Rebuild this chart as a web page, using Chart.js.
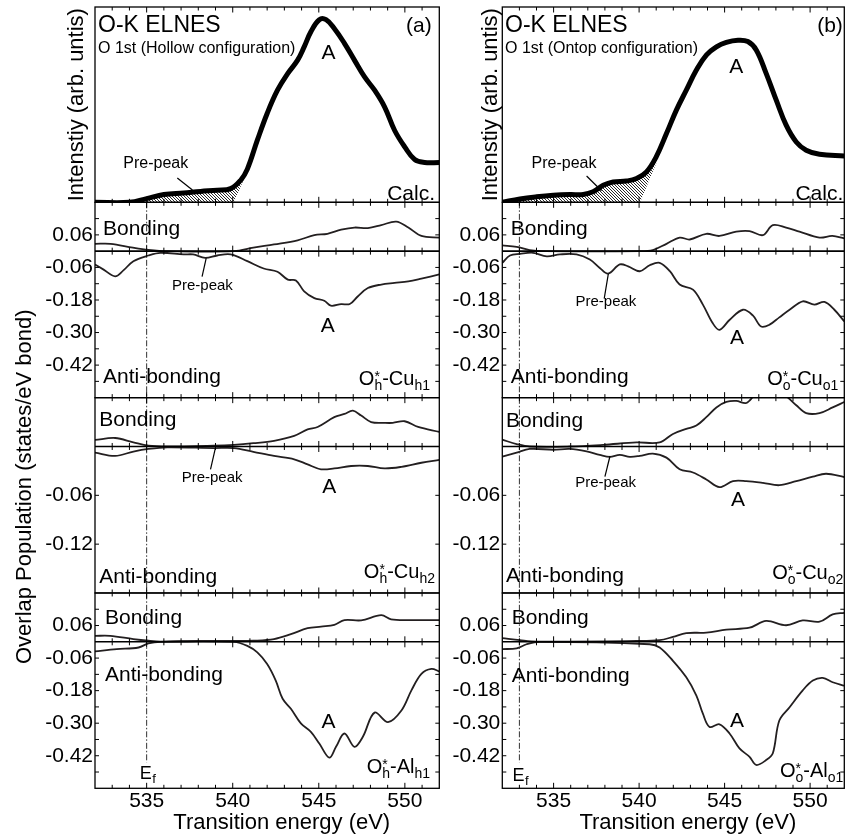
<!DOCTYPE html>
<html lang="en">
<head>
<meta charset="UTF-8">
<title>O-K ELNES and overlap population</title>
<script src="https://cdn.jsdelivr.net/npm/chart.js"></script>
<style>
  body { margin: 0; background: #fff; }
  canvas { position: absolute; top: 0; }
  #colA { left: 0; }
  #colB { left: 445px; }
</style>
</head>
<body>
<canvas id="colA" width="445" height="836"></canvas>
<canvas id="colB" width="400" height="836"></canvas>
<script>
const FONT = '"Liberation Sans", Arial, sans-serif';

// x axis (transition energy, eV)
const xMajor = [535, 540, 545, 550];
const xMinor = [533, 534, 536, 537, 538, 539, 541, 542, 543, 544, 546, 547, 548, 549, 551];

// y ticks of the overlap population panels
const opTicks = [0.18, 0.12, 0.06, 0, -0.06, -0.12, -0.18, -0.24, -0.30, -0.36, -0.42, -0.48, -0.54];
const opLabels = [0.06, -0.06, -0.18, -0.30, -0.42];
const cu2Ticks = [0.06, 0, -0.06, -0.12, -0.18];
const cu2Labels = [-0.06, -0.12];

// ---- (a) hollow configuration ----
const elnesA_E = [532, 534.0, 535.0, 536.0, 537.15, 538.13, 539.1, 539.88, 540.46, 540.85, 541.43, 542.0, 542.6, 543.2, 543.77, 544.15, 544.54, 545.03, 545.42, 545.9, 546.49, 547.07, 547.65, 548.24, 548.82, 549.4, 549.99, 550.57, 551.15, 552];
const elnesA_I = [0, 0, 0.019, 0.04, 0.048, 0.056, 0.062, 0.07, 0.113, 0.17, 0.318, 0.455, 0.574, 0.66, 0.728, 0.796, 0.873, 0.935, 0.935, 0.89, 0.814, 0.728, 0.643, 0.574, 0.489, 0.369, 0.284, 0.219, 0.204, 0.204];
const hatchA_E = [535.0, 540.07, 540.8];
const hatchA_I = [0, 0, 0.15];

const cuh1BondE = [532, 532.9, 534.2, 535.1, 536.2, 540.07, 541.2, 542.4, 543.77, 544.74, 545.5, 546.3, 547.07, 547.85, 548.63, 549.5, 550.2, 550.96, 552];
const cuh1BondV = [0.027, 0.027, 0.013, 0.005, 0.0, 0.0, 0.013, 0.025, 0.04, 0.059, 0.064, 0.079, 0.087, 0.085, 0.096, 0.109, 0.087, 0.056, 0.05];
const cuh1AntiE = [532, 532.5, 533.17, 533.65, 534.23, 535.1, 535.8, 537.15, 537.7, 538.4, 539.1, 539.88, 540.85, 541.8, 542.6, 543.2, 543.67, 544.15, 544.74, 545.32, 545.7, 546.3, 546.8, 547.26, 547.85, 548.63, 549.4, 550.2, 550.96, 552];
const cuh1AntiV = [-0.049, -0.068, -0.093, -0.071, -0.037, -0.016, -0.006, -0.012, -0.012, -0.025, -0.016, -0.012, -0.037, -0.064, -0.076, -0.105, -0.108, -0.148, -0.173, -0.183, -0.201, -0.195, -0.195, -0.167, -0.136, -0.123, -0.117, -0.111, -0.101, -0.086];

const cuh2BondE = [532, 533.17, 534.23, 535.1, 536.2, 538.9, 540.07, 541.2, 542.4, 543.57, 544.35, 544.93, 545.9, 546.49, 546.98, 547.46, 548.04, 548.82, 549.3, 549.99, 550.77, 552];
const cuh2BondV = [0.008, 0.0104, 0.005, 0.001, 0, 0.001, 0.002, 0.004, 0.007, 0.013, 0.021, 0.024, 0.036, 0.04, 0.044, 0.038, 0.03, 0.029, 0.029, 0.031, 0.024, 0.018];
const cuh2AntiE = [532, 533.17, 534.23, 535.1, 536.2, 538.9, 540.07, 541.2, 542.4, 543.57, 544.35, 545.13, 545.9, 546.88, 547.85, 548.82, 549.8, 550.96, 552];
const cuh2AntiV = [-0.0075, -0.0116, -0.0062, -0.003, -0.001, -0.002, -0.002, -0.0066, -0.0116, -0.0157, -0.022, -0.028, -0.027, -0.024, -0.024, -0.027, -0.025, -0.02, -0.0165];

const alh1BondE = [532, 532.88, 534.23, 535.1, 535.8, 538.0, 540.07, 541.2, 542.4, 543.38, 544.35, 545.13, 545.9, 546.49, 547.46, 548.63, 549.2, 550.2, 552];
const alh1BondV = [0.022, 0.022, 0.01, 0.004, 0.001, 0.003, 0.003, 0.004, 0.01, 0.028, 0.05, 0.056, 0.062, 0.08, 0.079, 0.098, 0.083, 0.08, 0.08];
const alh1AntiE = [532, 533.26, 534.53, 535.1, 535.8, 540.07, 540.85, 541.43, 542.0, 542.5, 542.9, 543.38, 543.96, 544.54, 545.03, 545.61, 546.0, 546.49, 547.07, 547.56, 548.24, 549.02, 549.8, 550.38, 550.96, 551.54, 552];
const alh1AntiV = [-0.035, -0.027, -0.021, -0.006, 0, 0, -0.015, -0.039, -0.082, -0.143, -0.21, -0.247, -0.301, -0.332, -0.375, -0.427, -0.387, -0.338, -0.387, -0.35, -0.261, -0.296, -0.253, -0.179, -0.118, -0.1, -0.109];

// ---- (b) ontop configuration ----
const elnesB_E = [532, 533.03, 534.0, 534.98, 535.95, 536.73, 537.31, 537.9, 538.48, 539.26, 539.85, 540.43, 541.0, 541.6, 542.18, 542.76, 543.35, 543.93, 544.52, 545.1, 545.78, 546.36, 546.85, 547.43, 548.02, 548.6, 549.19, 549.77, 550.55, 552];
const elnesB_I = [0, 0.017, 0.028, 0.036, 0.04, 0.04, 0.054, 0.087, 0.104, 0.109, 0.122, 0.156, 0.233, 0.352, 0.472, 0.574, 0.677, 0.754, 0.796, 0.819, 0.83, 0.823, 0.78, 0.66, 0.523, 0.395, 0.309, 0.267, 0.246, 0.237];
const hatchB_E = [533.0, 540.06, 541.1];
const hatchB_I = [0, 0, 0.22];

const cuo1BondE = [532, 532.84, 533.6, 534.5, 540.0, 540.8, 541.6, 542.37, 542.96, 543.93, 544.7, 545.68, 546.46, 547.24, 547.82, 548.6, 549.38, 550.55, 551.3, 552];
const cuo1BondV = [0.021, 0.016, 0.004, 0, 0, 0.004, 0.027, 0.05, 0.043, 0.064, 0.056, 0.072, 0.074, 0.059, 0.096, 0.087, 0.072, 0.05, 0.056, 0.047];
const cuo1AntiE = [532, 532.45, 533.03, 533.8, 534.6, 535.37, 536.34, 537.12, 537.7, 538.19, 538.87, 539.36, 540.04, 540.62, 541.2, 541.8, 542.37, 543.15, 543.73, 544.3, 544.7, 545.3, 546.07, 546.65, 547.14, 547.63, 548.2, 548.8, 549.57, 550.25, 550.84, 551.42, 552];
const cuo1AntiV = [-0.043, -0.016, -0.01, -0.006, -0.019, -0.012, -0.012, -0.031, -0.062, -0.083, -0.049, -0.056, -0.074, -0.052, -0.043, -0.074, -0.123, -0.142, -0.197, -0.265, -0.29, -0.253, -0.216, -0.237, -0.278, -0.271, -0.244, -0.216, -0.185, -0.197, -0.187, -0.216, -0.259];

const cuo2BondE = [532, 532.84, 533.6, 535.95, 537.9, 539.85, 541.2, 541.98, 542.76, 543.35, 543.93, 544.52, 545.1, 545.68, 546.27, 546.8, 547.4, 548.0, 548.7, 549.19, 549.77, 550.55, 551.32, 552];
const cuo2BondV = [0.0083, 0.003, 0, 0, 0.002, 0.005, 0.005, 0.0154, 0.0216, 0.0257, 0.036, 0.048, 0.0547, 0.056, 0.0534, 0.064, 0.072, 0.07, 0.06, 0.0506, 0.041, 0.041, 0.048, 0.0547];
const cuo2AntiE = [532, 532.84, 533.6, 534.98, 535.95, 536.93, 537.7, 538.29, 538.87, 539.46, 540.04, 540.8, 541.6, 542.37, 543.15, 543.93, 544.7, 545.49, 546.27, 547.24, 548.2, 549.19, 550.16, 550.94, 552];
const cuo2AntiV = [-0.0124, -0.0075, -0.003, -0.004, -0.003, -0.006, -0.0103, -0.0128, -0.0103, -0.0128, -0.0116, -0.0087, -0.0137, -0.028, -0.032, -0.0405, -0.05, -0.0426, -0.0426, -0.0447, -0.0476, -0.0426, -0.037, -0.0335, -0.0376];

const alo1BondE = [532, 533.03, 534.0, 539.85, 541.2, 541.98, 542.76, 543.93, 545.1, 546.46, 547.43, 548.6, 549.57, 550.55, 551.32, 552];
const alo1BondV = [0.0135, 0.006, 0.001, 0.003, 0.006, 0.018, 0.032, 0.034, 0.045, 0.052, 0.077, 0.061, 0.079, 0.074, 0.101, 0.107];
const alo1AntiE = [532, 532.84, 533.42, 534.2, 540.62, 541.2, 541.98, 542.76, 543.35, 543.73, 544.12, 544.7, 545.29, 545.87, 546.46, 546.85, 547.43, 547.82, 548.2, 548.8, 549.57, 550.16, 550.74, 551.32, 552];
const alo1AntiV = [-0.027, -0.024, -0.009, 0, -0.009, -0.021, -0.07, -0.131, -0.198, -0.265, -0.314, -0.304, -0.338, -0.393, -0.424, -0.454, -0.436, -0.411, -0.29, -0.241, -0.179, -0.143, -0.133, -0.149, -0.162];

const pts = (xs, ys) => xs.map((x, i) => ({ x, y: ys[i] }));

function makeHatch() {
  const c = document.createElement('canvas');
  c.width = 3; c.height = 3;
  const g = c.getContext('2d');
  g.strokeStyle = '#111';
  g.lineWidth = 0.9;
  g.beginPath();
  g.moveTo(0, 0); g.lineTo(3, 3);
  g.moveTo(-1, 2); g.lineTo(1, 4);
  g.moveTo(2, -1); g.lineTo(4, 1);
  g.stroke();
  return g.createPattern(c, 'repeat');
}

function seg(ctx, x1, y1, x2, y2) {
  ctx.beginPath(); ctx.moveTo(x1, y1); ctx.lineTo(x2, y2); ctx.stroke();
}
function txt(ctx, s, x, y, size, align) {
  ctx.font = size + 'px ' + FONT;
  ctx.textAlign = align || 'left';
  ctx.textBaseline = 'alphabetic';
  ctx.fillText(s, x, y);
}
function vtxt(ctx, s, x, y, size) {
  ctx.save();
  ctx.translate(x, y);
  ctx.rotate(-Math.PI / 2);
  txt(ctx, s, 0, 0, size, 'center');
  ctx.restore();
}
// O*_site - Partner_idx
function bondLabel(ctx, right, base, site, partner, idx) {
  const f = s => s + 'px ' + FONT;
  ctx.textAlign = 'left'; ctx.textBaseline = 'alphabetic';
  ctx.font = f(20);
  const wO = ctx.measureText('O').width, wP = ctx.measureText('-' + partner).width;
  ctx.font = f(14);
  const wS = Math.max(ctx.measureText('*').width, ctx.measureText(site).width);
  const wI = ctx.measureText(idx).width;
  let x = right - (wO + wS + wP + wI);
  ctx.font = f(20); ctx.fillText('O', x, base); x += wO;
  ctx.font = f(14); ctx.fillText('*', x, base - 4); ctx.fillText(site, x, base + 5); x += wS;
  ctx.font = f(20); ctx.fillText('-' + partner, x, base); x += wP;
  ctx.font = f(14); ctx.fillText(idx, x, base + 5);
}

function makeDecor(col) {
  return {
    id: 'decor',
    afterDraw(chart) {
      const ctx = chart.ctx, xs = chart.scales.x;
      const ys = ['yE', 'y1', 'y2', 'y3'].map(k => chart.scales[k]);
      const L = xs.left, R = xs.right;
      ctx.save();
      ctx.fillStyle = '#000';

      // Fermi level
      const xf = xs.getPixelForValue(col.ef);
      ctx.strokeStyle = '#333';
      ctx.lineWidth = 1;
      ctx.setLineDash([6, 2, 1.5, 2]);
      seg(ctx, xf, ys[1].top, xf, ys[3].getPixelForValue(-0.445));
      ctx.setLineDash([]);
      ctx.strokeStyle = '#000';

      // frames, zero lines and inward ticks
      ys.forEach((s, i) => {
        ctx.lineWidth = 1.3;
        ctx.strokeRect(L, s.top, R - L, s.bottom - s.top);
        const rows = [[s.top, 1], [s.bottom, -1]];
        if (i > 0) {
          const y0 = s.getPixelForValue(0);
          ctx.lineWidth = 1.6;
          seg(ctx, L, y0, R, y0);
          rows.push([y0, 0]);
        }
        ctx.lineWidth = 1;
        rows.forEach(([y, dir]) => {
          xMajor.concat(xMinor).forEach(v => {
            const len = xMajor.includes(v) ? 5.5 : 3.5;
            const px = xs.getPixelForValue(v);
            if (dir === 0) seg(ctx, px, y - len, px, y + len);
            else seg(ctx, px, y, px, y + dir * len);
          });
        });
        if (i > 0) s.ticks.forEach(t => {
          if (t.value === s.min || t.value === s.max || t.value === 0) return;
          const py = s.getPixelForValue(t.value);
          seg(ctx, L, py, L + 4, py);
          seg(ctx, R - 4, py, R, py);
        });
      });

      // headers of the ELNES panel
      const top = ys[0].top, h = col.head;
      txt(ctx, 'O-K ELNES', L + h.title[0], top + h.title[1], 23);
      txt(ctx, col.sub, L + h.sub[0], top + h.sub[1], 16);
      txt(ctx, col.tag, R + h.tag[0], top + h.tag[1], 21, 'right');
      txt(ctx, 'Calc.', R + h.calc[0], top + h.calc[1], 21, 'right');
      vtxt(ctx, 'Intenstiy (arb. untis)', L + col.intX, (ys[0].top + ys[0].bottom) / 2, 22);
      if (col.opTitle) vtxt(ctx, 'Overlap Population (states/eV bond)', col.opTitle[0], col.opTitle[1], 22);

      // overlap panels
      [1, 2, 3].forEach((k, j) => {
        const s = ys[k];
        txt(ctx, 'Bonding', L + col.bond[j][0], s.top + col.bond[j][1], 21);
        txt(ctx, 'Anti-bonding', L + col.anti[j][0], s.top + col.anti[j][1], 21);
        bondLabel(ctx, R + col.name[j][0], s.top + col.name[j][1], col.site, col.bonds[j][0], col.bonds[j][1]);
      });

      // feature labels
      col.notes.forEach(([ax, s, e, v, size]) => {
        txt(ctx, s, xs.getPixelForValue(e), chart.scales[ax].getPixelForValue(v), size, 'center');
      });
      ctx.lineWidth = 1.2;
      col.leaders.forEach(([ax, e1, v1, e2, v2]) => {
        const sc = chart.scales[ax];
        seg(ctx, xs.getPixelForValue(e1), sc.getPixelForValue(v1), xs.getPixelForValue(e2), sc.getPixelForValue(v2));
      });

      // E_f label
      const yb = ys[3].bottom - col.efDy;
      txt(ctx, 'E', xf - 7, yb, 18);
      ctx.font = '18px ' + FONT;
      const wE = ctx.measureText('E').width;
      txt(ctx, 'f', xf - 7 + wE + 0.5, yb + 4, 13);

      // x axis title
      txt(ctx, 'Transition energy (eV)', xs.getPixelForValue(542.85), 829, 22, 'center');
      ctx.restore();
    }
  };
}

function yAxis(min, max, ticks, labels, weight, w, show) {
  return {
    type: 'linear', position: 'left', stack: 'col', stackWeight: 1, weight,
    min, max,
    grid: { display: false, drawTicks: false },
    border: { display: false },
    afterBuildTicks: s => { s.ticks = ticks.map(v => ({ value: v })); },
    afterFit: s => { s.width = w; s.paddingTop = 0; s.paddingBottom = 0; },
    ticks: {
      display: show, autoSkip: false, padding: 2, color: '#000',
      font: { family: FONT, size: 21 },
      callback: v => labels.some(l => Math.abs(l - v) < 1e-9) ? v.toFixed(2) : ''
    }
  };
}

function buildColumn(id, col) {
  const curve = (e, v, ax) => ({
    data: pts(e, v), yAxisID: ax, borderColor: '#231f20', borderWidth: 1.8,
    pointRadius: 0, fill: false, tension: 0.35
  });
  new Chart(document.getElementById(id), {
    type: 'line',
    data: {
      datasets: [
        { data: pts(col.elnes[0], col.elnes[1]), yAxisID: 'yE', borderColor: '#000', borderWidth: 5,
          borderJoinStyle: 'round', pointRadius: 0, fill: false, tension: 0.4 },
        { data: pts(col.hatch[0], col.hatch[1]), yAxisID: 'yE', borderWidth: 0, borderColor: 'rgba(0,0,0,0)',
          backgroundColor: makeHatch(), fill: 0, tension: 0, pointRadius: 0 },
        curve(col.op[0][0], col.op[0][1], 'y1'),
        curve(col.op[1][0], col.op[1][1], 'y1'),
        curve(col.op[2][0], col.op[2][1], 'y2'),
        curve(col.op[3][0], col.op[3][1], 'y2'),
        curve(col.op[4][0], col.op[4][1], 'y3'),
        curve(col.op[5][0], col.op[5][1], 'y3')
      ]
    },
    options: {
      responsive: false, animation: false, events: [],
      layout: { padding: { top: 7, right: col.padRight, left: 0, bottom: 0 } },
      plugins: { legend: { display: false }, tooltip: { enabled: false } },
      scales: {
        x: {
          type: 'linear', position: 'bottom', min: 532, max: 552,
          grid: { display: false, drawTicks: false }, border: { display: false },
          afterBuildTicks: s => { s.ticks = xMajor.map(v => ({ value: v })); },
          afterFit: s => { s.height = 47.7; s.paddingLeft = 0; s.paddingRight = 0; },
          ticks: { font: { family: FONT, size: 21 }, color: '#000', padding: 0, maxRotation: 0, autoSkip: false }
        },
        yE: yAxis(0, 1, [0, 1], [], 4, col.axisW, false),
        y1: yAxis(-0.54, 0.18, opTicks, opLabels, 3, col.axisW, true),
        y2: yAxis(-0.18, 0.06, cu2Ticks, cu2Labels, 2, col.axisW, true),
        y3: yAxis(-0.54, 0.18, opTicks, opLabels, 1, col.axisW, true)
      }
    },
    plugins: [makeDecor(col)]
  });
}

buildColumn('colA', {
  axisW: 95, padRight: 5.7, ef: 535, site: 'h', tag: '(a)',
  sub: 'O 1st (Hollow configuration)',
  elnes: [elnesA_E, elnesA_I], hatch: [hatchA_E, hatchA_I],
  op: [[cuh1BondE, cuh1BondV], [cuh1AntiE, cuh1AntiV], [cuh2BondE, cuh2BondV], [cuh2AntiE, cuh2AntiV], [alh1BondE, alh1BondV], [alh1AntiE, alh1AntiV]],
  bonds: [['Cu', 'h1'], ['Cu', 'h2'], ['Al', 'h1']],
  head: { title: [3, 24.7], sub: [3, 46.3], tag: [-7.6, 24.7], calc: [-4.3, 192.5] },
  intX: -12.5, opTitle: [31, 486.7], efDy: 9.5,
  bond: [[8, 32.7], [4.3, 28.3], [10, 31]],
  anti: [[8, 181], [4.3, 185.6], [10, 87.7]],
  name: [[-9.3, 182.7], [-4.3, 180.6], [-9.3, 179.7]],
  notes: [['yE', 'A', 545.56, 0.732, 21], ['yE', 'Pre-peak', 535.53, 0.174, 16],
          ['y1', 'A', 545.52, -0.297, 21], ['y1', 'Pre-peak', 538.24, -0.143, 15],
          ['y2', 'A', 545.61, -0.0568, 21], ['y2', 'Pre-peak', 538.8, -0.0433, 15],
          ['y3', 'A', 545.56, -0.3185, 21]],
  leaders: [['yE', 536.78, 0.125, 537.66, 0.063], ['y1', 538.46, -0.026, 538.22, -0.094], ['y2', 539.0, -0.0015, 538.71, -0.028]]
});

buildColumn('colB', {
  axisW: 57.3, padRight: 0.7, ef: 533, site: 'o', tag: '(b)',
  sub: 'O 1st (Ontop configuration)',
  elnes: [elnesB_E, elnesB_I], hatch: [hatchB_E, hatchB_I],
  op: [[cuo1BondE, cuo1BondV], [cuo1AntiE, cuo1AntiV], [cuo2BondE, cuo2BondV], [cuo2AntiE, cuo2AntiV], [alo1BondE, alo1BondV], [alo1AntiE, alo1AntiV]],
  bonds: [['Cu', 'o1'], ['Cu', 'o2'], ['Al', 'o1']],
  head: { title: [2.7, 24.7], sub: [2.7, 46.3], tag: [-1.5, 24.7], calc: [-1, 192.5] },
  intX: -5.3, opTitle: null, efDy: 7,
  bond: [[8.4, 32.7], [3.7, 29], [9.4, 31]],
  anti: [[8.4, 181], [3.7, 184], [9.4, 88.7]],
  name: [[-6, 182.7], [-1, 181.6], [-1, 183.7]],
  notes: [['yE', 'A', 545.68, 0.664, 21], ['yE', 'Pre-peak', 535.61, 0.174, 16],
          ['y1', 'A', 545.73, -0.343, 21], ['y1', 'Pre-peak', 538.06, -0.202, 15],
          ['y2', 'A', 545.78, -0.0731, 21], ['y2', 'Pre-peak', 538.04, -0.0502, 15],
          ['y3', 'A', 545.73, -0.3126, 21]],
  leaders: [['yE', 536.93, 0.135, 537.8, 0.0594], ['y1', 538.2, -0.084, 537.96, -0.175], ['y2', 538.3, -0.0117, 538.0, -0.037]]
});
</script>
</body>
</html>
